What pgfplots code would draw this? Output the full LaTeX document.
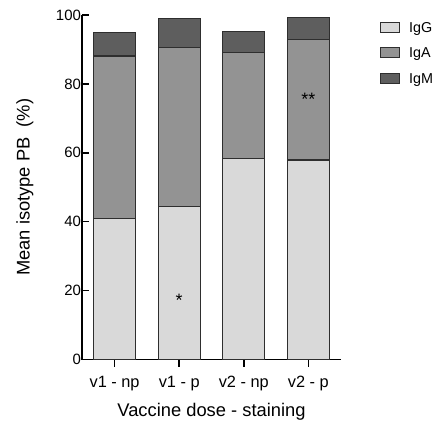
\documentclass[border=0pt]{standalone}
\usepackage{fontspec}
\setmainfont{Liberation Sans}
\usepackage{pgfplots}
\usepackage{pgfplotstable}
\pgfplotsset{compat=1.18}
\definecolor{cIgG}{HTML}{D9D9D9}
\definecolor{cIgA}{HTML}{939393}
\definecolor{cIgM}{HTML}{5E5E5E}
\definecolor{edge}{HTML}{2E2E2E}
\pgfplotsset{boxlegend/.style={legend image code/.code={\draw[##1] (0bp,-5bp) rectangle (19bp,5bp);}}}

\pgfplotstableread{
x IgG IgA IgM
0 40.9 47.2 6.9
1 44.4 46.2 8.4
2 58.3 30.9 6.0
3 57.9 34.9 6.5
}\datatable

\begin{document}
\begin{tikzpicture}
\begin{axis}[
  scale only axis, width=258.4bp, height=344.5bp,
  ybar stacked, bar width=0.65,
  xmin=-0.5, xmax=3.5, ymin=0, ymax=100,
  axis lines*=left,
  axis line style={line width=1.6bp, black},
  xtick={0,1,2,3},
  xticklabels={v1 - np, v1 - p, v2 - np, v2 - p},
  ytick={0,20,40,60,80,100},
  xtick align=outside, ytick align=inside,
  major tick length=7bp,
  tick style={line width=1.6bp, black},
  /pgf/number format/assume math mode=true,
  yticklabel style={font=\fontsize{15}{18}\selectfont, inner xsep=0pt, xshift=-1.2bp},
  xticklabel style={font=\fontsize{16.4}{19}\selectfont, anchor=base, yshift=-20.5bp},
  xlabel={Vaccine dose - staining},
  ylabel={Mean isotype PB\ \ (\%)},
  label style={font=\fontsize{18.4}{22}\selectfont},
  xlabel style={at={(axis description cs:0.5,-0.166)}, anchor=base},
  ylabel style={at={(axis description cs:-0.222,0.5)}, anchor=center},
  legend style={at={(axis description cs:1.152,0.9806)}, anchor=north west,
    draw=none, fill=none, inner sep=0pt, outer sep=0pt, row sep=14.5bp,
    font=\fontsize{14.4}{17}\selectfont,
    nodes={inner sep=0pt, outer sep=0pt, text height=10bp, text depth=0bp},
    /tikz/every odd column/.append style={column sep=9bp}},
  legend cell align=left,
  every axis plot/.append style={draw=edge, line width=1.1bp},
]
\addplot[fill=cIgG, boxlegend] table[x=x, y=IgG] {\datatable};
\addplot[fill=cIgA, boxlegend] table[x=x, y=IgA] {\datatable};
\addplot[fill=cIgM, boxlegend] table[x=x, y=IgM] {\datatable};
\legend{IgG, IgA, IgM}
\coordinate (s1) at (axis cs:1,15.5);
\coordinate (s2) at (axis cs:3,73.6);
\coordinate (O) at (rel axis cs:0,0);
\end{axis}
\node[font=\fontsize{18}{20}\selectfont, anchor=base] at (s1) {*};
\node[font=\fontsize{18}{20}\selectfont, anchor=base] at (s2) {**};
\pgfresetboundingbox
\path (O) ++(-82.3bp,-64.5bp) rectangle ++(444bp,424bp);
\end{tikzpicture}
\end{document}
